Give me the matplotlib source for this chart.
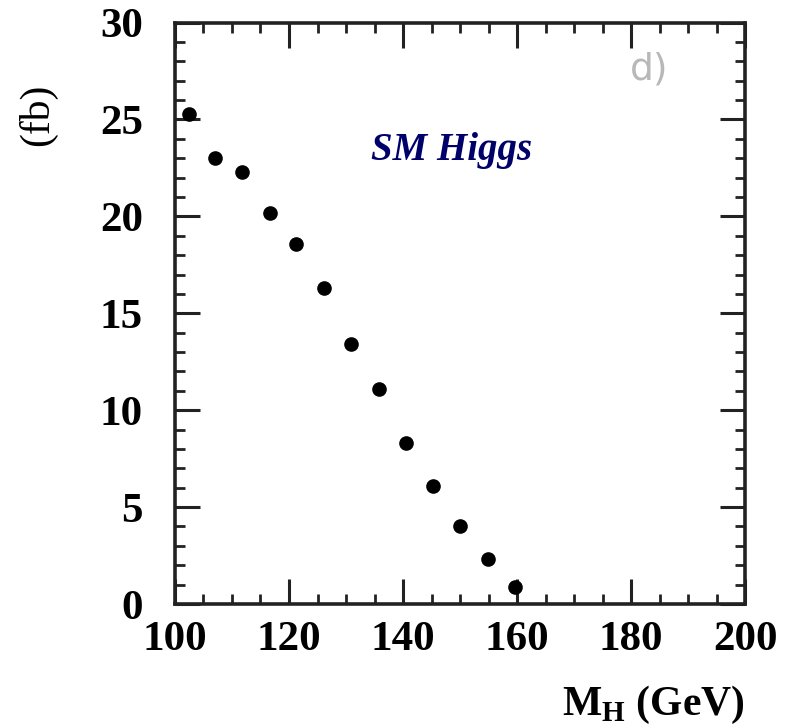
import matplotlib
matplotlib.use("Agg")
import matplotlib.pyplot as plt
from matplotlib.ticker import MultipleLocator

plt.rcParams['font.family'] = ['Liberation Serif', 'DejaVu Serif']
plt.rcParams['mathtext.fontset'] = 'custom'
plt.rcParams['mathtext.rm'] = 'Liberation Serif:bold'
plt.rcParams['mathtext.bf'] = 'Liberation Serif:bold'

# Higgs mass points (GeV) and cross section (fb)
mass = [102.4, 107.0, 111.8, 116.6, 121.3, 126.1, 130.8,
        135.8, 140.5, 145.3, 150.0, 154.9, 159.6]
xsec = [25.3, 23.0, 22.3, 20.2, 18.6, 16.3, 13.4,
        11.1, 8.3, 6.1, 4.0, 2.3, 0.9]

fig = plt.figure(figsize=(7.86, 7.28), dpi=100)
ax = fig.add_axes([0.2226, 0.1703, 0.7254, 0.7987])

ax.plot(mass, xsec, 'o', color='black', markersize=9.5)

ax.set_xlim(100, 200)
ax.set_ylim(0, 30)
ax.xaxis.set_major_locator(MultipleLocator(20))
ax.xaxis.set_minor_locator(MultipleLocator(5))
ax.yaxis.set_major_locator(MultipleLocator(5))
ax.yaxis.set_minor_locator(MultipleLocator(1))

ax.tick_params(which='both', direction='in', top=True, right=True, color='#222222')
ax.tick_params(which='major', length=18, width=2.2)
ax.tick_params(which='minor', length=7, width=2.0)
ax.tick_params(axis='y', which='major', pad=23)
ax.tick_params(axis='x', which='major', pad=12)
for lab in ax.get_xticklabels() + ax.get_yticklabels():
    lab.set_fontsize(31)
    lab.set_fontweight('bold')
for sp in ax.spines.values():
    sp.set_linewidth(2.6)
    sp.set_color('#222222')

ax.set_xlabel(r'M$_\mathrm{H}$ (GeV)', fontsize=30, fontweight='bold', loc='right', labelpad=18)
fig.text(38 / 786, 1 - 115 / 728, '(fb)', fontsize=30, rotation=90, ha='center', va='center')

ax.text(148.5, 23.4, 'SM Higgs', fontsize=28, fontweight='bold', style='italic',
        color='#00006a', ha='center', va='center')
ax.text(183.1, 27.6, 'd)', fontsize=27, color='#b8b8b8', family='DejaVu Sans',
        ha='center', va='center')

fig.savefig('out.png', dpi=100)
